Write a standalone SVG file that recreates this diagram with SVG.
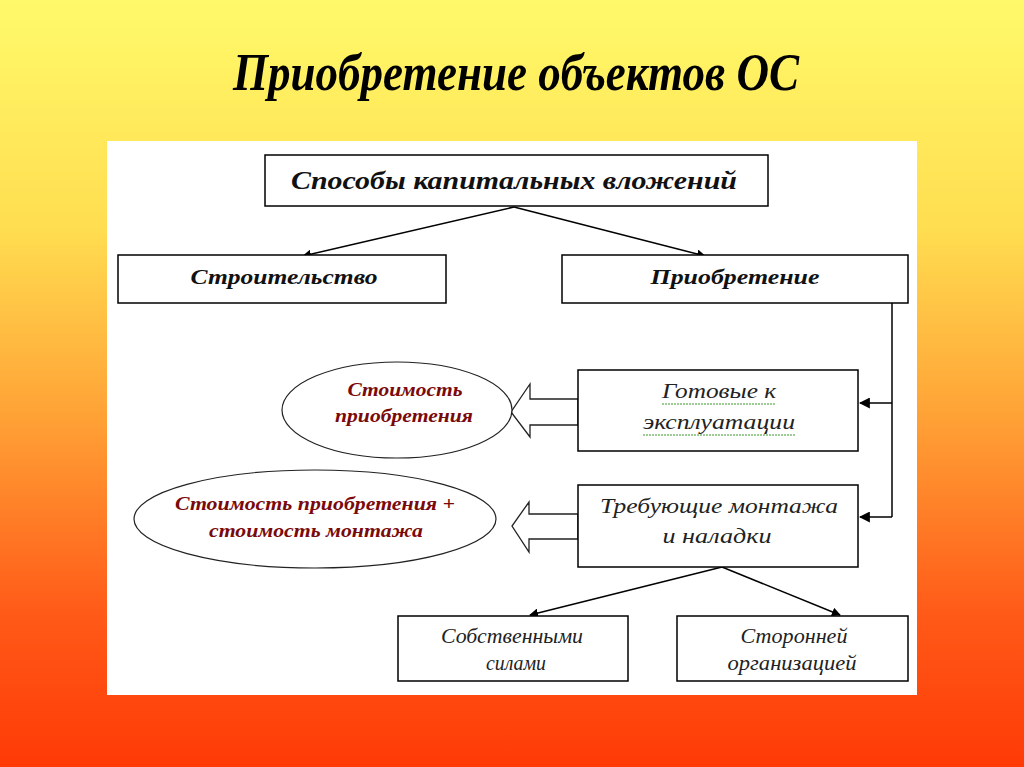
<svg xmlns="http://www.w3.org/2000/svg" width="1024" height="767" viewBox="0 0 1024 767">
<defs>
<linearGradient id="bg" x1="0" y1="0" x2="0" y2="1">
<stop offset="0" stop-color="#FFFA6A"/>
<stop offset="0.3" stop-color="#FFDD50"/>
<stop offset="0.55" stop-color="#FFA035"/>
<stop offset="0.8" stop-color="#FF5A18"/>
<stop offset="1" stop-color="#FF3A06"/>
</linearGradient>
<marker id="ah" viewBox="0 0 10 10" refX="9" refY="5" markerWidth="9" markerHeight="9" markerUnits="userSpaceOnUse" orient="auto">
<path d="M0,0 L10,5 L0,10 z" fill="#000"/>
</marker>
<marker id="ah2" viewBox="0 0 10 10" refX="9" refY="5" markerWidth="11" markerHeight="11" markerUnits="userSpaceOnUse" orient="auto">
<path d="M0,0 L10,5 L0,10 z" fill="#000"/>
</marker>
</defs>
<style>
.box{fill:#fff;stroke:#000;stroke-width:1.5}
.ell{fill:#fff;stroke:#222;stroke-width:1.2}
.con{fill:none;stroke:#000;stroke-width:1.5}
.blk{fill:#fff;stroke:#222;stroke-width:1.3}
.t1{font-family:"Liberation Serif",serif;font-weight:bold;font-style:italic;fill:#111;text-anchor:middle}
.t2{font-family:"Liberation Serif",serif;font-style:italic;fill:#222;text-anchor:middle;font-size:21px}
.t3{font-family:"Liberation Serif",serif;font-weight:bold;font-style:italic;fill:#7A0A0A;text-anchor:middle;font-size:19px}
.wavy{fill:none;stroke:#3a9a2a;stroke-width:1;stroke-dasharray:2 1}
</style>
<rect x="0" y="0" width="1024" height="767" fill="url(#bg)"/>
<text x="516" y="90" font-family="Liberation Serif, serif" font-weight="bold" font-style="italic" font-size="52" text-anchor="middle" fill="#000" textLength="566" lengthAdjust="spacingAndGlyphs">Приобретение объектов ОС</text>
<rect x="107" y="141" width="810" height="554" fill="#fff"/>

<g id="connectors">
<line class="con" x1="514" y1="207" x2="303" y2="256" marker-end="url(#ah)"/>
<line class="con" x1="514" y1="207" x2="705" y2="256" marker-end="url(#ah)"/>
<polyline class="con" points="892,303 892,517"/>
<line class="con" x1="892" y1="403" x2="860" y2="403" marker-end="url(#ah2)"/>
<line class="con" x1="892" y1="517" x2="860" y2="517" marker-end="url(#ah2)"/>
<line class="con" x1="722" y1="567" x2="530" y2="615" marker-end="url(#ah)"/>
<line class="con" x1="722" y1="567" x2="840" y2="615" marker-end="url(#ah)"/>
<polygon class="blk" points="578,399 530,399 530,384 511,412 530,437 530,425 578,425"/>
<polygon class="blk" points="578,514 529,514 529,502 512,526 529,552 529,539 578,539"/>
</g>

<g id="n-sposoby">
<rect class="box" x="265" y="155" width="503" height="51"/>
<text class="t1" x="514" y="189" font-size="25" textLength="446" lengthAdjust="spacingAndGlyphs">Способы  капитальных вложений</text>
</g>
<g id="n-stroitelstvo">
<rect class="box" x="118" y="255" width="328" height="48"/>
<text class="t1" x="284" y="284" font-size="21" textLength="187" lengthAdjust="spacingAndGlyphs">Строительство</text>
</g>
<g id="n-priobretenie">
<rect class="box" x="562" y="255" width="346" height="48"/>
<text class="t1" x="735" y="284" font-size="21" textLength="169" lengthAdjust="spacingAndGlyphs">Приобретение</text>
</g>
<g id="n-gotovye">
<rect class="box" x="578" y="370" width="280" height="81"/>
<text class="t2" x="719" y="398" textLength="114" lengthAdjust="spacingAndGlyphs">Готовые к</text>
<text class="t2" x="719" y="429" textLength="152" lengthAdjust="spacingAndGlyphs">эксплуатации</text>
<line class="wavy" x1="662" y1="404" x2="776" y2="404"/>
<line class="wavy" x1="643" y1="435" x2="795" y2="435"/>
</g>
<g id="n-trebuyushchie">
<rect class="box" x="578" y="485" width="280" height="82"/>
<text class="t2" x="719" y="513" textLength="238" lengthAdjust="spacingAndGlyphs">Требующие монтажа</text>
<text class="t2" x="717" y="543" textLength="109" lengthAdjust="spacingAndGlyphs">и наладки</text>
</g>
<g id="n-stoimost1">
<ellipse class="ell" cx="397" cy="410" rx="115" ry="48"/>
<text class="t3" x="405" y="396" textLength="115" lengthAdjust="spacingAndGlyphs">Стоимость</text>
<text class="t3" x="404" y="422" textLength="138" lengthAdjust="spacingAndGlyphs">приобретения</text>
</g>
<g id="n-stoimost2">
<ellipse class="ell" cx="315" cy="519" rx="181" ry="49"/>
<text class="t3" x="315" y="510" textLength="280" lengthAdjust="spacingAndGlyphs">Стоимость приобретения +</text>
<text class="t3" x="316" y="537" textLength="214" lengthAdjust="spacingAndGlyphs">стоимость монтажа</text>
</g>
<g id="n-sobstvennymi">
<rect class="box" x="398" y="616" width="230" height="65"/>
<text class="t2" x="512" y="643" font-size="19" textLength="142" lengthAdjust="spacingAndGlyphs">Собственными</text>
<text class="t2" x="516" y="670" font-size="19" textLength="60" lengthAdjust="spacingAndGlyphs">силами</text>
</g>
<g id="n-storonney">
<rect class="box" x="677" y="616" width="231" height="65"/>
<text class="t2" x="794" y="643" font-size="19" textLength="107" lengthAdjust="spacingAndGlyphs">Сторонней</text>
<text class="t2" x="792" y="670" font-size="19" textLength="129" lengthAdjust="spacingAndGlyphs">организацией</text>
</g>
</svg>
